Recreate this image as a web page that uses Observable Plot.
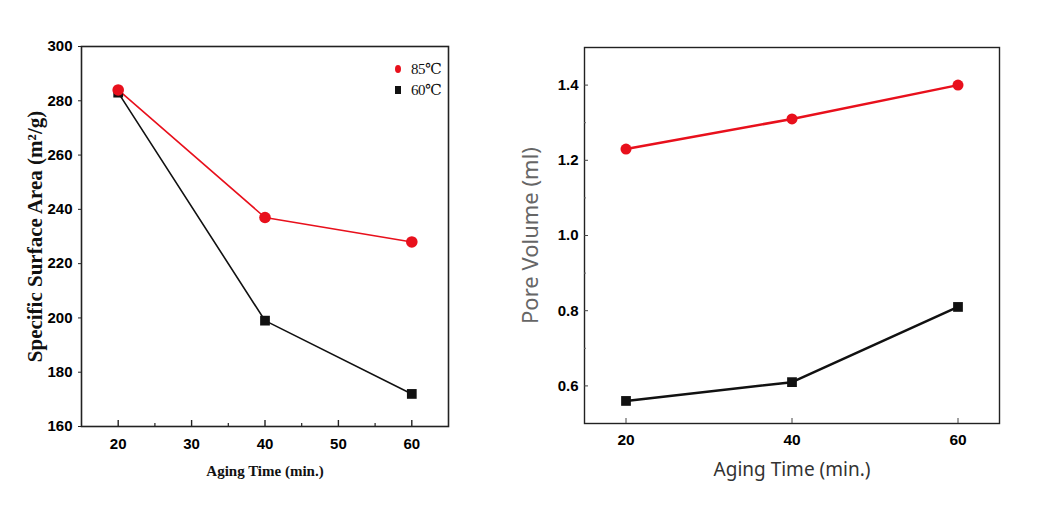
<!DOCTYPE html>
<html>
<head>
<meta charset="utf-8">
<script src="https://cdn.jsdelivr.net/npm/d3@7"></script>
<script src="https://cdn.jsdelivr.net/npm/@observablehq/plot@0.6"></script>
<style>
  html, body { margin: 0; padding: 0; background: #fff; }
  #wrap { position: relative; width: 1060px; height: 508px; overflow: hidden; }
  #left { position: absolute; left: 0; top: 0; }
  #right { position: absolute; left: 500px; top: 0; }
  .leg { position: absolute; font-family: "Liberation Serif", "DejaVu Serif", serif; font-size: 15px; color: #111; display: flex; align-items: center; letter-spacing: -0.5px; }
  .leg i { display: inline-block; width: 6px; height: 8px; margin-right: 10px; }
</style>
</head>
<body>
<div id="wrap">
  <div id="left"></div>
  <div id="right"></div>
</div>
<script>
// ---- data ----
const agingTime = [20, 40, 60];
const series = ["85℃", "60℃"];
const surface85 = [284, 237, 228];
const surface60 = [283, 199, 172];
const pore85 = [1.23, 1.31, 1.40];
const pore60 = [0.56, 0.61, 0.81];
const leftXTicks = [20, 30, 40, 50, 60];
const leftXMinor = [25, 35, 45, 55];
const leftYTicks = [160, 180, 200, 220, 240, 260, 280, 300];
const rightXTicks = [20, 40, 60];
const rightYTicks = [0.6, 0.8, 1.0, 1.2, 1.4];
const rightYMinor = [0.7, 0.9, 1.1, 1.3];
const leftYLabel = "Specific Surface Area (m²/g)";
const rightYLabel = "Pore Volume (ml)";
const xLabel = "Aging Time (min.)";

const RED = "#e8101c";
const BLACK = "#111";

function rows(xs, ys, s) { return xs.map((x, i) => ({x, y: ys[i], s})); }

const leftData85 = rows(agingTime, surface85, series[0]);
const leftData60 = rows(agingTime, surface60, series[1]);
const rightData85 = rows(agingTime, pore85, series[0]);
const rightData60 = rows(agingTime, pore60, series[1]);

const tickFont = "'Liberation Sans Narrow', 'Liberation Sans', sans-serif";
const serifFont = "'Liberation Serif', 'DejaVu Serif', serif";
const grayFont = "'Noto Sans', 'DejaVu Sans', sans-serif";

// ---- left chart ----
const left = Plot.plot({
  width: 470, height: 508,
  marginLeft: 81, marginRight: 22, marginTop: 46, marginBottom: 82,
  style: {fontFamily: tickFont, background: "transparent", overflow: "visible"},
  x: {domain: [15, 65]},
  y: {domain: [160, 300]},
  marks: [
    Plot.line(leftData60, {x: "x", y: "y", stroke: BLACK, strokeWidth: 1.6}),
    Plot.line(leftData85, {x: "x", y: "y", stroke: RED, strokeWidth: 1.6}),
    Plot.dot(leftData60, {x: "x", y: "y", symbol: "square", r: 5.5, fill: BLACK, stroke: "none"}),
    Plot.dot(leftData85, {x: "x", y: "y", symbol: "circle", r: 5.8, fill: RED, stroke: "none"}),
    Plot.frame({stroke: "#222", strokeWidth: 1.6}),
    Plot.axisX({ticks: leftXTicks, tickSize: -6, tickPadding: 18, fontSize: 15, fontWeight: "bold", label: null, stroke: "#222", strokeWidth: 1.4}),
    Plot.axisX({ticks: leftXMinor, tickSize: -3, tickFormat: () => "", label: null, stroke: "#222", strokeWidth: 1.2}),
    Plot.axisY({ticks: leftYTicks, tickSize: 3, tickPadding: 6, fontSize: 15, fontWeight: "bold", label: null, stroke: "#222"}),
    Plot.text([xLabel], {frameAnchor: "bottom", dy: 49, fontSize: 15, fontWeight: "bold", fontFamily: serifFont, fill: "#111"}),
    Plot.text([leftYLabel], {frameAnchor: "left", dx: -46, rotate: -90, textAnchor: "middle", fontSize: 21, fontWeight: "bold", fontFamily: serifFont, fill: "#111"})
  ]
});
document.getElementById("left").appendChild(left);

// ---- right chart ----
const right = Plot.plot({
  width: 540, height: 508,
  marginLeft: 84, marginRight: 41, marginTop: 47, marginBottom: 85,
  style: {fontFamily: tickFont, background: "transparent", overflow: "visible"},
  x: {domain: [15, 65]},
  y: {domain: [0.5, 1.5]},
  marks: [
    Plot.line(rightData60, {x: "x", y: "y", stroke: BLACK, strokeWidth: 2.5}),
    Plot.line(rightData85, {x: "x", y: "y", stroke: RED, strokeWidth: 2.5}),
    Plot.dot(rightData60, {x: "x", y: "y", symbol: "square", r: 5.5, fill: BLACK, stroke: "none"}),
    Plot.dot(rightData85, {x: "x", y: "y", symbol: "circle", r: 5.5, fill: RED, stroke: "none"}),
    Plot.frame({stroke: "#222", strokeWidth: 1.4}),
    Plot.axisX({ticks: rightXTicks, tickSize: -5, tickPadding: 15, fontSize: 15.5, fontWeight: "bold", label: null, stroke: "#444"}),
    Plot.axisY({ticks: rightYTicks, tickSize: -4, tickPadding: 10, fontSize: 15, fontWeight: "bold", tickFormat: d3.format(".1f"), label: null, stroke: "#444"}),
    Plot.axisY({ticks: rightYMinor, tickSize: -2, tickFormat: () => "", label: null, stroke: "#666"}),
    Plot.text([xLabel], {frameAnchor: "bottom", dy: 52, fontSize: 19, fontFamily: grayFont, fill: "#333"}),
    Plot.text([rightYLabel], {frameAnchor: "left", dx: -54, rotate: -90, textAnchor: "middle", fontSize: 22, fontFamily: grayFont, fill: "#666"})
  ]
});
document.getElementById("right").appendChild(right);

// ---- legend (left chart) ----
const wrap = document.getElementById("wrap");
const legTops = [60, 81];
const legColors = [RED, BLACK];
series.forEach((s, i) => {
  const el = document.createElement("div");
  el.className = "leg";
  el.style.left = "395px";
  el.style.top = legTops[i] + "px";
  const sw = document.createElement("i");
  sw.style.background = legColors[i];
  if (i === 0) sw.style.borderRadius = "50%";
  el.appendChild(sw);
  el.appendChild(document.createTextNode(s));
  wrap.appendChild(el);
});
</script>
</body>
</html>
